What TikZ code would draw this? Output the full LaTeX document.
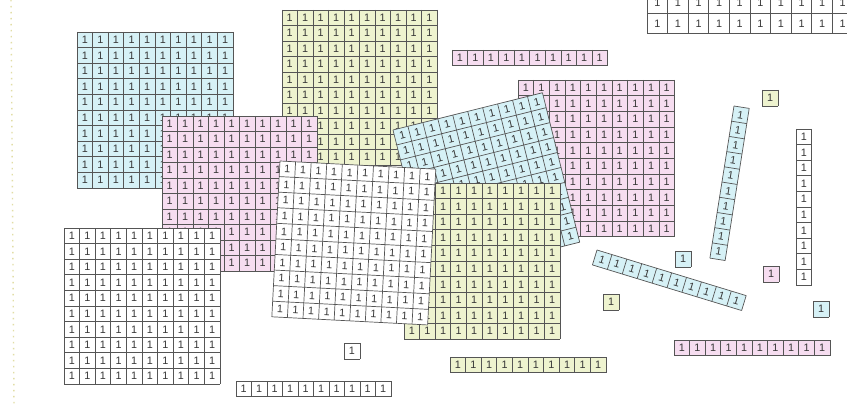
\documentclass[tikz,border=0pt]{standalone}
\usepackage{fontspec}
\setmainfont{Liberation Sans}
\definecolor{cblue}{RGB}{214,241,246}
\definecolor{cpink}{RGB}{246,221,240}
\definecolor{cgreen}{RGB}{238,243,207}
\definecolor{cwhite}{RGB}{255,255,255}
\definecolor{cline}{RGB}{85,85,85}
\definecolor{ctext}{RGB}{55,55,55}
\definecolor{cdots}{RGB}{225,221,165}
\tikzset{
  digit/.style={font=\fontsize{10.8}{12}\selectfont, text=ctext, inner sep=0pt},
  gridline/.style={draw=cline, line width=0.7pt},
}
% #1 x, #2 y (top-left, px), #3 rotation, #4 cols, #5 rows, #6 colour, #7 cell size
\newcommand\unitgrid[7]{%
  \begin{scope}[shift={(#1,#2)}, rotate=#3]
    \fill[#6] (0,0) rectangle ({#4*#7},{#5*#7});
    \foreach \ci in {1,...,#4} {
      \foreach \cj in {1,...,#5} {
        \node[digit, transform shape] at ({(\ci-0.5)*#7},{(\cj-0.5)*#7}) {1};
      }
    }
    \foreach \ci in {0,...,#4} \draw[gridline] ({\ci*#7},0) -- ({\ci*#7},{#5*#7});
    \foreach \cj in {0,...,#5} \draw[gridline] (0,{\cj*#7}) -- ({#4*#7},{\cj*#7});
  \end{scope}}
\begin{document}
\begin{tikzpicture}[x=1pt,y=-1pt]
\useasboundingbox (0,0) rectangle (847,404);
\fill[white] (0,0) rectangle (847,404);
\clip (0,0) rectangle (847,404);
% dotted margin line
\coordinate (dtop) at (11,0);
\coordinate (dbot) at (14,404);
\draw[cdots, line width=1.4pt, dash pattern=on 1.4pt off 4.6pt] (dtop) -- (dbot);
% large squares, bottom to top
\unitgrid{77}{32}{0}{10}{10}{cblue}{15.6}
\unitgrid{282}{10}{0}{10}{10}{cgreen}{15.5}
\unitgrid{162}{116}{0}{10}{10}{cpink}{15.5}
\unitgrid{64}{228}{0}{10}{10}{cwhite}{15.6}
\unitgrid{518}{80}{0}{10}{10}{cpink}{15.65}
\unitgrid{393}{130}{14}{10}{10}{cblue}{15.4}
\unitgrid{404}{183}{0}{10}{10}{cgreen}{15.6}
\unitgrid{280}{161}{-3}{10}{10}{cwhite}{15.6}
% top-right partial square
\unitgrid{647}{-7.5}{0}{10}{2}{cwhite}{20.6}
% rods
\unitgrid{452}{50}{0}{10}{1}{cpink}{15.55}
\unitgrid{734}{106}{-9}{1}{10}{cblue}{15.4}
\unitgrid{796}{129}{0}{1}{10}{cwhite}{15.6}
\unitgrid{597}{250}{-17}{10}{1}{cblue}{15.6}
\unitgrid{674}{340}{0}{10}{1}{cpink}{15.6}
\unitgrid{450}{357}{0}{10}{1}{cgreen}{15.6}
\unitgrid{236}{381}{0}{10}{1}{cwhite}{15.5}
% single units
\unitgrid{762}{90}{0}{1}{1}{cgreen}{16}
\unitgrid{675}{251}{0}{1}{1}{cblue}{16}
\unitgrid{763}{266}{0}{1}{1}{cpink}{16}
\unitgrid{603}{294}{0}{1}{1}{cgreen}{16}
\unitgrid{813}{301}{0}{1}{1}{cblue}{16}
\unitgrid{344}{343}{0}{1}{1}{cwhite}{16}
\end{tikzpicture}
\end{document}
